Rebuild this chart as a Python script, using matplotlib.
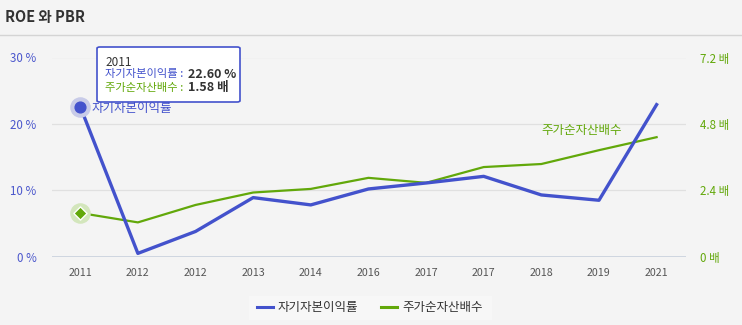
import matplotlib
matplotlib.use("Agg")
import matplotlib.pyplot as plt
from matplotlib.patches import FancyBboxPatch
from matplotlib.lines import Line2D

plt.rcParams['font.family'] = ['Noto Sans CJK KR', 'DejaVu Sans']

years = ["2011", "2012", "2012", "2013", "2014", "2016", "2017", "2017", "2018", "2019", "2021"]
roe = [22.60, 0.5, 3.8, 8.9, 7.8, 10.2, 11.1, 12.1, 9.3, 8.5, 22.9]
pbr = [1.58, 1.24, 1.87, 2.32, 2.45, 2.85, 2.67, 3.24, 3.35, 3.85, 4.32]
roe_ticks = [0, 10, 20, 30]
pbr_ticks = [0, 2.4, 4.8, 7.2]
roe_name = "자기자본이익률"
pbr_name = "주가순자산배수"

BLUE = "#4352cc"
GREEN = "#62a80a"
BG = "#f4f4f4"

W, H = 742, 325
fig = plt.figure(figsize=(W / 100, H / 100), dpi=100, facecolor=BG)

def fx(px):
    return px / W

def fy(py):
    return 1 - py / H

ax_l, ax_r = 52, 686
ax_t, ax_b = 57.5, 256.7
ax = fig.add_axes([fx(ax_l), fy(ax_b), fx(ax_r) - fx(ax_l), fy(ax_t) - fy(ax_b)])
ax2 = ax.twinx()

x = list(range(len(years)))
ax.set_xlim(-0.49, len(years) - 1 + 0.51)
ax.set_ylim(0, 30)
ax2.set_ylim(0, 7.2)

for sp in list(ax.spines.values()) + list(ax2.spines.values()):
    sp.set_visible(False)

ax.set_yticks(roe_ticks)
ax.set_yticklabels([f"{t} %" for t in roe_ticks], color="#4a56cc", fontsize=8.3)
ax2.set_yticks(pbr_ticks)
ax2.set_yticklabels([f"{t:g} 배" for t in pbr_ticks], color=GREEN, fontsize=8.3)
ax.tick_params(axis="y", length=0, pad=11)
ax2.tick_params(axis="y", length=0, pad=10)
ax.set_xticks(x)
ax.set_xticklabels(years, color="#555555", fontsize=7.7)
ax.tick_params(axis="x", length=0, pad=8)

ax2.patch.set_visible(True)
ax2.patch.set_facecolor(BG)
for t in pbr_ticks[1:]:
    ax2.axhline(t, color="#e0e0e0", lw=0.9, zorder=0)
ax2.axhline(0, color="#c8d0dc", lw=1.2, zorder=0)

ax2.plot(x, pbr, color=GREEN, lw=1.6, zorder=3)
ax.plot(x, roe, color=BLUE, lw=2.4, zorder=4)
ax.set_zorder(ax2.get_zorder() + 1)
ax.patch.set_visible(False)

# highlighted markers
ax.scatter([x[0]], [roe[0]], s=190, color="#c8cbe8", zorder=5)
ax.scatter([x[0]], [roe[0]], s=60, color=BLUE, zorder=6)
ax2.scatter([x[0]], [pbr[0]], s=190, color="#d3e6bc", zorder=5)
ax2.scatter([x[0]], [pbr[0]], s=45, marker="D", color=GREEN, edgecolors="white", linewidths=1, zorder=6)

# series labels
ax.annotate(roe_name, (x[0], roe[0]), xytext=(8, -1), textcoords="offset points",
            color=BLUE, fontsize=9, va="center", ha="left", zorder=7)
ax2.annotate(pbr_name, (x[-1], pbr[-1]), xytext=(-25, 4.5), textcoords="offset points",
             color=GREEN, fontsize=9, va="center", ha="right", zorder=7)

# title and separator
fig.text(fx(5), fy(17), "ROE 와 PBR", fontsize=10.5, fontweight="bold", color="#333333",
         va="center", ha="left")
fig.add_artist(Line2D([0, 1], [fy(35), fy(35)], color="#d4d4d4", lw=1))

# tooltip
tb = FancyBboxPatch((fx(97), fy(102)), fx(240) - fx(97), fy(47) - fy(102),
                    boxstyle="round,pad=0,rounding_size=0.004", transform=fig.transFigure,
                    facecolor="white", edgecolor=BLUE, lw=1.2, zorder=20)
fig.add_artist(tb)
fig.text(fx(105), fy(62), years[0], fontsize=8.5, color="#333333", va="center", zorder=21)
fig.text(fx(105), fy(74.5), f"{roe_name} :", fontsize=8.1, color=BLUE, va="center", zorder=21)
fig.text(fx(188), fy(74.5), f"{roe[0]:.2f} %", fontsize=9, color="#333333", fontweight="bold", va="center", zorder=21)
fig.text(fx(105), fy(88), f"{pbr_name} :", fontsize=8.1, color=GREEN, va="center", zorder=21)
fig.text(fx(188), fy(88), f"{pbr[0]:.2f} 배", fontsize=9, color="#333333", fontweight="bold", va="center", zorder=21)

# legend
lb = FancyBboxPatch((fx(249), fy(320)), fx(492) - fx(249), fy(296) - fy(320),
                    boxstyle="square,pad=0", transform=fig.transFigure,
                    facecolor="#f7f7f7", edgecolor="none", zorder=1)
fig.add_artist(lb)
ly = fy(307)
fig.add_artist(Line2D([fx(257), fx(273)], [ly, ly], color=BLUE, lw=2.2))
fig.text(fx(278), ly, roe_name, fontsize=9, color="#333333", va="center", ha="left")
fig.add_artist(Line2D([fx(381), fx(397)], [ly, ly], color=GREEN, lw=2.2))
fig.text(fx(402), ly, pbr_name, fontsize=9, color="#333333", va="center", ha="left")

fig.savefig("out.png", dpi=100, facecolor=BG)
